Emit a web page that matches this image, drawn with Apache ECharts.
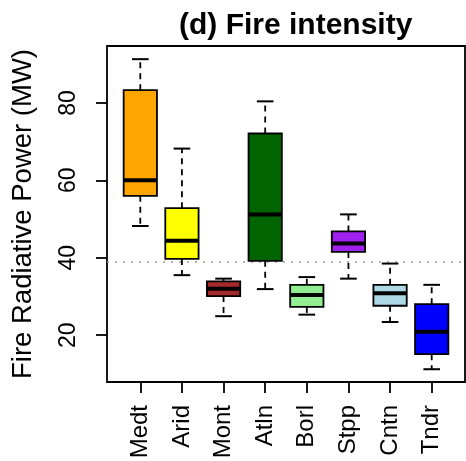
<!DOCTYPE html>
<html>
<head>
<meta charset="utf-8">
<script src="https://cdn.jsdelivr.net/npm/echarts@6/dist/echarts.min.js"></script>
<style>
html,body{margin:0;padding:0;background:#fff;}
#chart{width:466px;height:461px;}
</style>
</head>
<body>
<div id="chart"></div>
<script>
const categories = ['Medt','Arid','Mont','Atln','Borl','Stpp','Cntn','Tndr'];
const lowerWhisker = [48.2, 35.5, 24.9, 31.9, 25.3, 34.6, 23.4, 11.2];
const q1Values     = [56.0, 39.7, 30.1, 39.2, 27.3, 41.5, 27.6, 15.1];
const medianValues = [60.0, 44.4, 32.0, 51.2, 30.4, 43.7, 30.8, 20.9];
const q3Values     = [83.3, 52.8, 33.9, 72.1, 33.0, 46.8, 33.0, 28.0];
const upperWhisker = [91.3, 68.2, 34.6, 80.4, 35.0, 51.2, 38.5, 33.0];
const boxColors = ['#FFA500','#FFFF00','#A52A2A','#006400','#90EE90','#A020F0','#ADD8E6','#0000FF'];
const referenceLine = 39;
const yTickValues = [20, 40, 60, 80];
const xTickValues = categories.map((c, i) => i + 1);

const FONT = '"Liberation Sans", Arial, sans-serif';

const data = categories.map((c, i) => [i + 1, lowerWhisker[i], q1Values[i], medianValues[i], q3Values[i], upperWhisker[i]]);

const chart = echarts.init(document.getElementById('chart'), null, {renderer: 'canvas'});

function renderItem(params, api) {
  const x = api.value(0);
  const lo = api.coord([x, api.value(1)]);
  const q1 = api.coord([x, api.value(2)]);
  const md = api.coord([x, api.value(3)]);
  const q3 = api.coord([x, api.value(4)]);
  const hi = api.coord([x, api.value(5)]);
  const bw = api.size([0.8, 0])[0];
  const cw = bw / 2;
  const cx = lo[0];
  const color = boxColors[params.dataIndex];
  const stroke = {stroke: '#000', lineWidth: 2};
  return {
    type: 'group',
    children: [
      {type: 'line', shape: {x1: cx, y1: q3[1], x2: cx, y2: hi[1]}, style: {stroke: '#000', lineWidth: 1.8, lineDash: [6, 5]}},
      {type: 'line', shape: {x1: cx, y1: q1[1], x2: cx, y2: lo[1]}, style: {stroke: '#000', lineWidth: 1.8, lineDash: [6, 5]}},
      {type: 'line', shape: {x1: cx - cw / 2, y1: hi[1], x2: cx + cw / 2, y2: hi[1]}, style: stroke},
      {type: 'line', shape: {x1: cx - cw / 2, y1: lo[1], x2: cx + cw / 2, y2: lo[1]}, style: stroke},
      {type: 'rect', shape: {x: cx - bw / 2, y: q3[1], width: bw, height: q1[1] - q3[1]}, style: {fill: color, stroke: '#000', lineWidth: 1.8}},
      {type: 'line', shape: {x1: cx - bw / 2, y1: md[1], x2: cx + bw / 2, y2: md[1]}, style: {stroke: '#000', lineWidth: 4}}
    ]
  };
}

chart.setOption({
  animation: false,
  backgroundColor: '#fff',
  title: {
    text: '(d) Fire intensity',
    left: 174,
    top: 6,
    textStyle: {fontFamily: FONT, fontSize: 30, fontWeight: 'bold', color: '#000'}
  },
  grid: {left: 107, right: 1, top: 46, bottom: 79, outerBoundsMode: 'none', containLabel: false, show: true, borderColor: '#000', borderWidth: 1.8, backgroundColor: 'transparent'},
  xAxis: {
    type: 'value', min: 0.2, max: 8.8,
    splitLine: {show: false},
    axisLine: {show: false},
    axisTick: {show: true, customValues: xTickValues, length: 11, lineStyle: {color: '#000', width: 1.8}},
    axisLabel: {
      customValues: xTickValues,
      formatter: v => categories[Math.round(v) - 1] || '',
      rotate: 90, margin: 23,
      fontFamily: FONT, fontSize: 24, color: '#000'
    }
  },
  yAxis: {
    type: 'value', min: 7.9, max: 94.7,
    name: 'Fire Radiative Power (MW)',
    nameLocation: 'middle', nameGap: 70,
    nameTextStyle: {fontFamily: FONT, fontSize: 27.5, color: '#000'},
    splitLine: {show: false},
    axisLine: {show: false},
    axisTick: {show: true, customValues: yTickValues, length: 11, lineStyle: {color: '#000', width: 1.8}},
    axisLabel: {
      customValues: yTickValues,
      rotate: 90, margin: 27,
      fontFamily: FONT, fontSize: 23, color: '#000'
    }
  },
  series: [{
    type: 'custom',
    renderItem: renderItem,
    encode: {x: 0, y: [1, 2, 3, 4, 5]},
    data: data,
    markLine: {
      silent: true,
      symbol: 'none',
      label: {show: false},
      lineStyle: {color: '#999', type: [2, 6], width: 1.5},
      data: [{yAxis: referenceLine}],
      z: 0
    }
  }]
});
</script>
</body>
</html>
